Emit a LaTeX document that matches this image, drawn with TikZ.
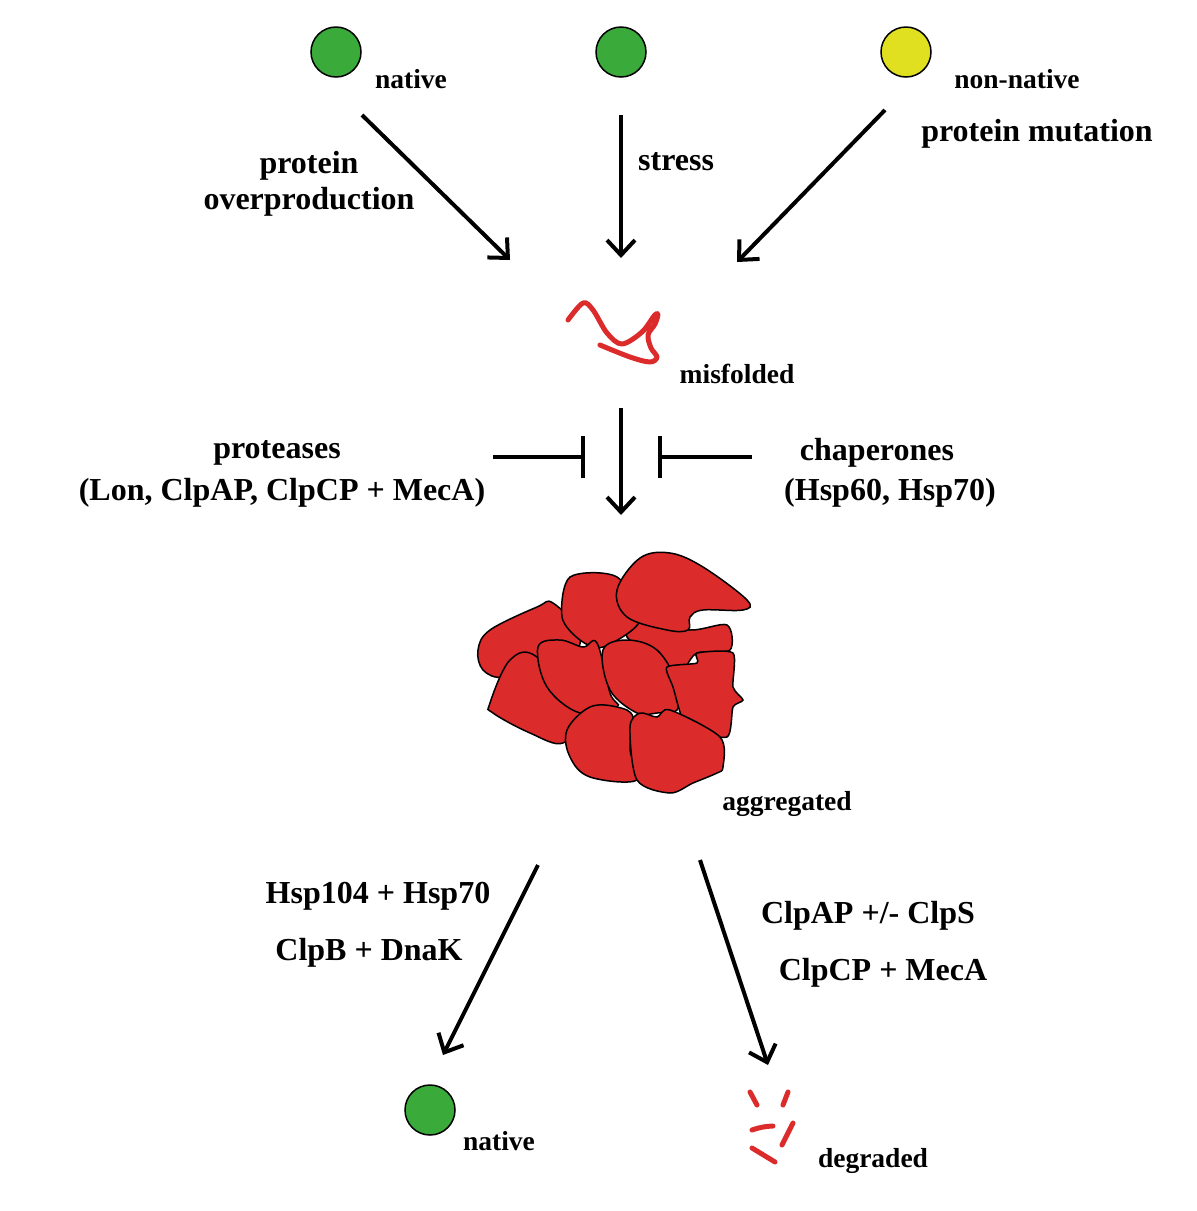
\documentclass[tikz,border=0pt]{standalone}
\usepackage{fontspec}
\setmainfont{Liberation Serif}
\usetikzlibrary{arrows.meta}
\definecolor{pgreen}{HTML}{3AAA3A}
\definecolor{pyellow}{HTML}{E0E020}
\definecolor{pred}{HTML}{DB2B2B}
\begin{document}
\begin{tikzpicture}[x=1pt,y=-1pt,
  big/.style={font=\fontsize{32}{36}\selectfont\bfseries, align=center, inner sep=0},
  small/.style={font=\fontsize{27.5}{31}\selectfont\bfseries, inner sep=0},
  ball/.style={circle, draw=black, line width=1.5pt, minimum size=50pt, inner sep=0},
  arr/.style={line width=4pt, -{Straight Barb[length=15pt,width=28pt,line width=4pt]}},
  inh/.style={line width=4pt, -{Bar[width=42pt,line width=4pt]}},
  blob/.style={fill=pred, draw=black, line width=1.5pt},
  redline/.style={draw=pred, line width=5pt, line cap=round}]
\useasboundingbox (0,0) rectangle (1197,1211);
% top circles
\node[ball, fill=pgreen] (c1) at (336,52) {};
\node[ball, fill=pgreen] (c2) at (621,52) {};
\node[ball, fill=pyellow] (c3) at (906,52) {};
\node[small] (l1) at (411,79) {native};
\node[small] (l3) at (1017,79) {non-native};
% arrows to misfolded
\coordinate (a1s) at (362,115); \coordinate (a1e) at (510,260);
\coordinate (a2s) at (621,115); \coordinate (a2e) at (621,258);
\coordinate (a3s) at (885,110); \coordinate (a3e) at (737,262);
\draw[arr] (a1s) -- (a1e);
\draw[arr] (a2s) -- (a2e);
\draw[arr] (a3s) -- (a3e);
\node[big] (t1) at (309,184) {protein\\overproduction};
\node[big, anchor=west] (t2) at (638,162) {stress};
\node[big] (t3) at (1037,134) {protein mutation};
% misfolded
\draw[redline, line join=round] plot[smooth, tension=0.55] coordinates {(568,320) (583,303) (593,310) (607,333) (622,344) (642,332) (654,316) (658,314) (655,324) (648,335) (651,348) (657,357) (650,362) (630,357) (600,345)};
\node[small] (mis) at (737,374) {misfolded};
% middle arrow + inhibitors
\coordinate (m1) at (621,408); \coordinate (m2) at (621,515);
\draw[arr] (m1) -- (m2);
\coordinate (i1s) at (493,457); \coordinate (i1e) at (585,457);
\coordinate (i2s) at (752,457); \coordinate (i2e) at (658,457);
\draw[inh] (i1s) -- (i1e);
\draw[inh] (i2s) -- (i2e);
\node[big] (pr) at (277,453) {proteases};
\node[big] (pr2) at (282,493) {(Lon, ClpAP, ClpCP + MecA)};
\node[big] (ch) at (877,453) {chaperones};
\node[big] (ch2) at (890,493) {(Hsp60, Hsp70)};
% aggregate
\draw[blob] plot[smooth cycle, tension=0.6] coordinates {(478,650) (490,630) (537,607) (553,603) (580,633) (570,657) (533,660) (503,677) (483,670)};
\draw[blob] plot[smooth cycle, tension=0.5] coordinates {(627,637) (640,620) (690,630) (727,625) (730,650) (697,653) (683,670) (670,667)};
\draw[blob] plot[smooth cycle, tension=0.5] coordinates {(570,577) (617,577) (640,620) (603,647) (580,640) (562,617)};
\draw[blob] plot[smooth cycle, tension=0.6] coordinates {(617,590) (640,558) (670,553) (703,567) (747,600) (743,610) (703,610) (690,617) (688,630) (667,630) (627,617)};
\draw[blob] plot[smooth cycle, tension=0.6] coordinates {(510,660) (537,657) (580,713) (563,743) (530,733) (493,713) (490,703)};
\draw[blob] plot[smooth cycle, tension=0.6] coordinates {(538,647) (560,640) (583,647) (597,643) (610,693) (617,707) (580,713) (547,687)};
\draw[blob] plot[smooth cycle, tension=0.6] coordinates {(603,650) (627,640) (657,650) (677,683) (677,710) (657,713) (637,713) (610,690)};
\draw[blob] plot[smooth cycle, tension=0.4] coordinates {(667,667) (697,663) (697,653) (733,653) (733,687) (743,700) (733,707) (727,737) (687,727) (673,687)};
\draw[blob] plot[smooth cycle, tension=0.6] coordinates {(567,730) (590,707) (617,707) (633,717) (630,750) (637,780) (590,777) (570,757)};
\draw[blob] plot[smooth cycle, tension=0.5] coordinates {(630,727) (640,713) (657,717) (670,710) (720,737) (723,767) (717,773) (693,783) (670,793) (637,780)};
\node[small] (agg) at (787,804) {aggregated};
% bottom arrows
\coordinate (b1s) at (538,865); \coordinate (b1e) at (443,1055);
\coordinate (b2s) at (700,860); \coordinate (b2e) at (768,1065);
\draw[arr] (b1s) -- (b1e);
\draw[arr] (b2s) -- (b2e);
\node[big] (h1) at (378,896) {Hsp104 + Hsp70};
\node[big] (h2) at (369,953) {ClpB + DnaK};
\node[big] (p1) at (868,916) {ClpAP +/- ClpS};
\node[big] (p2) at (883,973) {ClpCP + MecA};
% bottom products
\node[ball, fill=pgreen] (c4) at (430,1110) {};
\node[small] (l4) at (499,1141) {native};
\draw[redline] (750,1092) -- (757,1105);
\draw[redline] (788,1092) -- (783,1105);
\draw[redline] (752,1130) to[bend left=8] (773,1126);
\draw[redline] (793,1123) -- (782,1145);
\draw[redline] (752,1148) -- (775,1162);
\node[small] (deg) at (873,1161) {degraded};
\end{tikzpicture}
\end{document}
